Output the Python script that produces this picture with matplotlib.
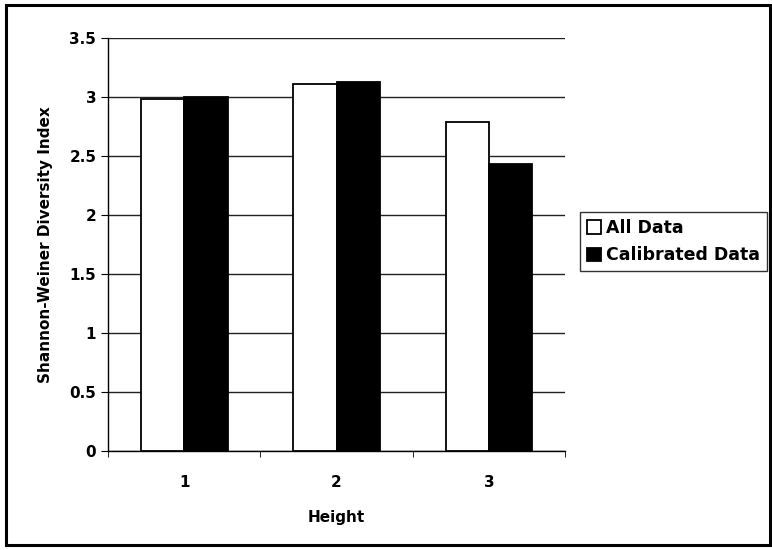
import matplotlib
matplotlib.use("Agg")
import matplotlib.pyplot as plt
import numpy as np
from matplotlib.patches import Rectangle

categories = ["1", "2", "3"]
all_data = [2.98, 3.11, 2.79]
calibrated = [3.00, 3.13, 2.43]
yticks = [0, 0.5, 1, 1.5, 2, 2.5, 3, 3.5]

plt.rcParams['font.family'] = ['DejaVu Sans']
fig = plt.figure(figsize=(7.72, 5.5), dpi=100)
ax = fig.add_axes([0.140, 0.180, 0.592, 0.751])

x = np.arange(1, len(categories) + 1)
w = 0.285
ax.bar(x - w / 2, all_data, w, color="white", edgecolor="black", linewidth=1.3, label="All Data", zorder=3)
ax.bar(x + w / 2, calibrated, w, color="black", edgecolor="black", linewidth=1.3, label="Calibrated Data", zorder=3)

ax.set_xlim(0.5, 3.5)
ax.set_ylim(0, 3.5)
ax.set_yticks(yticks)
ax.set_yticklabels(["0", "0.5", "1", "1.5", "2", "2.5", "3", "3.5"])
ax.set_xticks(x)
ax.set_xticklabels(categories)
ax.set_xticks([0.5, 1.5, 2.5, 3.5], minor=True)
ax.tick_params(axis="x", which="major", length=0, pad=17, labelsize=11)
ax.tick_params(axis="x", which="minor", length=4, direction="out")
ax.tick_params(axis="y", length=5, direction="out", labelsize=11)
for lbl in ax.get_xticklabels() + ax.get_yticklabels():
    lbl.set_fontweight("bold")
ax.yaxis.grid(True, color="#222222", linewidth=1.0, zorder=0)
ax.set_axisbelow(True)
for s in ["top", "right"]:
    ax.spines[s].set_visible(False)
ax.spines["left"].set_linewidth(1.0)
ax.spines["bottom"].set_linewidth(1.0)

ax.set_ylabel("Shannon-Weiner Diversity Index", fontsize=11, fontweight="bold", labelpad=12)
ax.set_xlabel("Height", fontsize=11, fontweight="bold", labelpad=15)

leg = fig.legend(loc="upper left", bbox_to_anchor=(580 / 772, 1 - 212 / 550), frameon=True,
                 fancybox=False, edgecolor="black", handlelength=0.8,
                 handleheight=0.8, handletextpad=0.3, borderpad=0.4, borderaxespad=0,
                 labelspacing=0.55, prop={"weight": "bold", "size": 12.5})
leg.get_frame().set_linewidth(1.0)

fig.patches.append(Rectangle((6 / 772, 5 / 550), 764 / 772, 540 / 550, transform=fig.transFigure,
                             fill=False, edgecolor="black", linewidth=2.2))

fig.savefig("out.png", dpi=100)
